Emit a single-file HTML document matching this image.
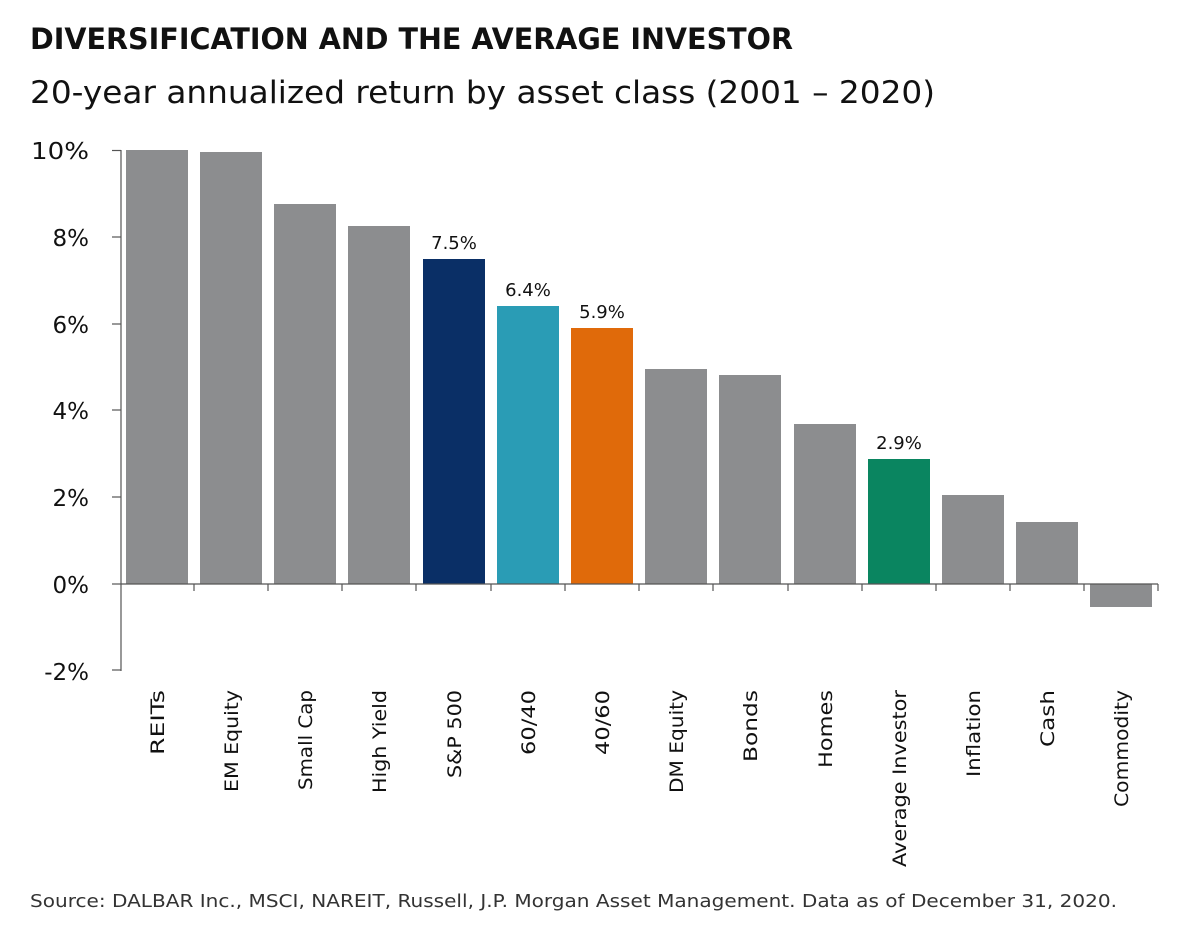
<!DOCTYPE html>
<html><head><meta charset="utf-8"><style>
body{margin:0;background:#fff;}
svg{display:block;font-family:"DejaVu Sans","Liberation Sans",sans-serif;}
</style></head><body>
<svg width="1200" height="933" viewBox="0 0 1200 933" xmlns="http://www.w3.org/2000/svg">
<text x="30" y="49" font-size="29" font-weight="bold" fill="#111" textLength="763" lengthAdjust="spacingAndGlyphs">DIVERSIFICATION AND THE AVERAGE INVESTOR</text>
<text x="30" y="103" font-size="31" fill="#111" textLength="905" lengthAdjust="spacingAndGlyphs">20-year annualized return by asset class (2001 – 2020)</text>
<g font-size="23" fill="#111" text-anchor="end">
<text x="89" y="159" textLength="58" lengthAdjust="spacingAndGlyphs">10%</text><text x="89" y="246">8%</text><text x="89" y="333">6%</text>
<text x="89" y="419">4%</text><text x="89" y="506">2%</text><text x="89" y="593">0%</text><text x="89" y="680">-2%</text>
</g>
<g fill="#8c8d8f">
<rect x="126" y="150" width="62" height="434"/>
<rect x="200" y="152" width="62" height="432"/>
<rect x="274" y="204" width="62" height="380"/>
<rect x="348" y="226" width="62" height="358"/>
<rect x="645" y="369" width="62" height="215"/>
<rect x="719" y="375" width="62" height="209"/>
<rect x="794" y="424" width="62" height="160"/>
<rect x="942" y="495" width="62" height="89"/>
<rect x="1016" y="522" width="62" height="62"/>
<rect x="1090" y="584" width="62" height="23"/>
</g>
<rect x="423" y="259" width="62" height="325" fill="#0a2f66"/>
<rect x="497" y="306" width="62" height="278" fill="#2a9cb5"/>
<rect x="571" y="328" width="62" height="256" fill="#e06a0a"/>
<rect x="868" y="459" width="62" height="125" fill="#0a8560"/>
<g font-size="18" fill="#111" text-anchor="middle">
<text x="454" y="249">7.5%</text><text x="528" y="296">6.4%</text><text x="602" y="318">5.9%</text><text x="899" y="449">2.9%</text>
</g>
<g stroke="#555" stroke-width="1.2">
<line x1="121" y1="150" x2="121" y2="671"/>
<line x1="112" y1="150.5" x2="121" y2="150.5"/><line x1="112" y1="237" x2="121" y2="237"/>
<line x1="112" y1="324" x2="121" y2="324"/><line x1="112" y1="410" x2="121" y2="410"/>
<line x1="112" y1="497" x2="121" y2="497"/><line x1="112" y1="584" x2="121" y2="584"/>
<line x1="112" y1="670" x2="121" y2="670"/>
<line x1="121" y1="584" x2="1158" y2="584"/>
<line x1="194" y1="584" x2="194" y2="591"/><line x1="268" y1="584" x2="268" y2="591"/>
<line x1="342" y1="584" x2="342" y2="591"/><line x1="416" y1="584" x2="416" y2="591"/>
<line x1="491" y1="584" x2="491" y2="591"/><line x1="565" y1="584" x2="565" y2="591"/>
<line x1="639" y1="584" x2="639" y2="591"/><line x1="713" y1="584" x2="713" y2="591"/>
<line x1="788" y1="584" x2="788" y2="591"/><line x1="862" y1="584" x2="862" y2="591"/>
<line x1="936" y1="584" x2="936" y2="591"/><line x1="1010" y1="584" x2="1010" y2="591"/>
<line x1="1084" y1="584" x2="1084" y2="591"/><line x1="1158" y1="584" x2="1158" y2="591"/>
</g>
<g font-size="19" fill="#111" text-anchor="end">
<text transform="translate(164,690) rotate(-90)" textLength="65" lengthAdjust="spacingAndGlyphs">REITs</text>
<text transform="translate(238,690) rotate(-90)" textLength="102" lengthAdjust="spacingAndGlyphs">EM Equity</text>
<text transform="translate(312,690) rotate(-90)" textLength="100" lengthAdjust="spacingAndGlyphs">Small Cap</text>
<text transform="translate(386,690) rotate(-90)" textLength="103" lengthAdjust="spacingAndGlyphs">High Yield</text>
<text transform="translate(461,690) rotate(-90)" textLength="88" lengthAdjust="spacingAndGlyphs">S&amp;P 500</text>
<text transform="translate(535,690) rotate(-90)" textLength="65" lengthAdjust="spacingAndGlyphs">60/40</text>
<text transform="translate(609,690) rotate(-90)" textLength="65" lengthAdjust="spacingAndGlyphs">40/60</text>
<text transform="translate(683,690) rotate(-90)" textLength="103" lengthAdjust="spacingAndGlyphs">DM Equity</text>
<text transform="translate(757,690) rotate(-90)" textLength="72" lengthAdjust="spacingAndGlyphs">Bonds</text>
<text transform="translate(832,690) rotate(-90)" textLength="78" lengthAdjust="spacingAndGlyphs">Homes</text>
<text transform="translate(906,690) rotate(-90)" textLength="177" lengthAdjust="spacingAndGlyphs">Average Investor</text>
<text transform="translate(980,690) rotate(-90)" textLength="87" lengthAdjust="spacingAndGlyphs">Inflation</text>
<text transform="translate(1054,690) rotate(-90)" textLength="57" lengthAdjust="spacingAndGlyphs">Cash</text>
<text transform="translate(1128,690) rotate(-90)" textLength="117" lengthAdjust="spacingAndGlyphs">Commodity</text>
</g>
<text x="30" y="907" font-size="18" fill="#333" textLength="1087" lengthAdjust="spacingAndGlyphs">Source: DALBAR Inc., MSCI, NAREIT, Russell, J.P. Morgan Asset Management. Data as of December 31, 2020.</text>
</svg>
</body></html>
